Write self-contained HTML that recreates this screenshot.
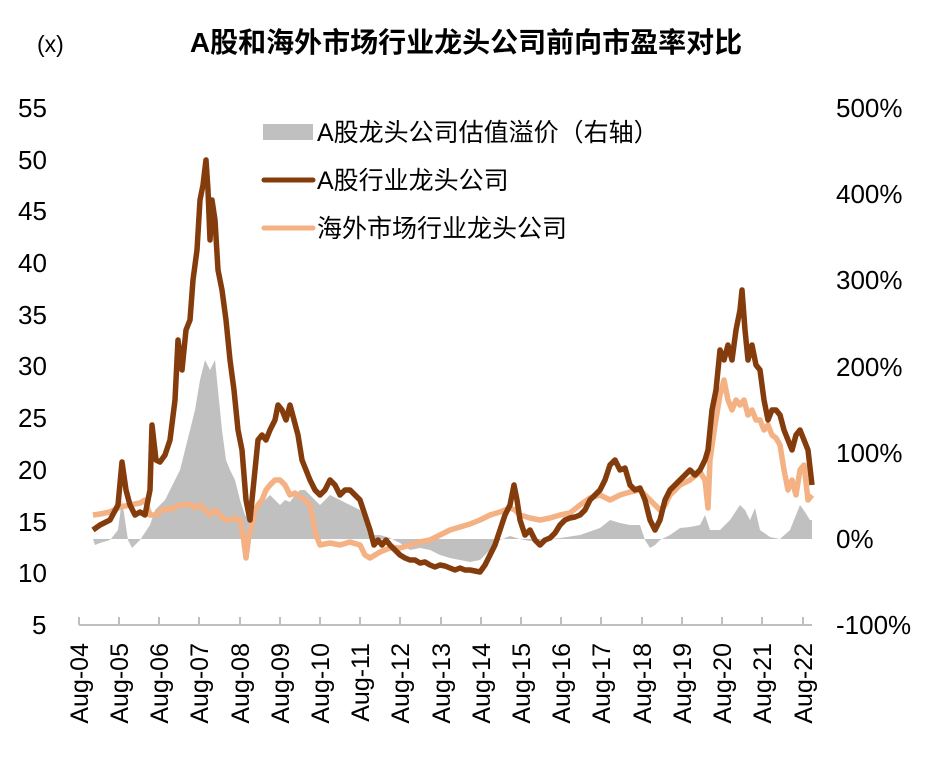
<!DOCTYPE html>
<html><head><meta charset="utf-8"><style>
body{margin:0;background:#fff}
svg text{font-family:"Liberation Sans","Noto Sans CJK SC",sans-serif;fill:#000}
</style></head><body>
<svg width="939" height="756" viewBox="0 0 939 756" xmlns="http://www.w3.org/2000/svg">
<text x="466" y="52" font-size="28" font-weight="bold" text-anchor="middle">A股和海外市场行业龙头公司前向市盈率对比</text>
<text x="37" y="52" font-size="23">(x)</text>
<g font-size="26">
<text x="18" y="117">55</text><text x="18" y="169">50</text><text x="18" y="220">45</text><text x="18" y="272">40</text><text x="18" y="324">35</text><text x="18" y="375">30</text><text x="18" y="427">25</text><text x="18" y="479">20</text><text x="18" y="531">15</text><text x="18" y="582">10</text><text x="32" y="634">5</text>
<text x="836" y="117">500%</text><text x="836" y="203">400%</text><text x="836" y="289">300%</text><text x="836" y="376">200%</text><text x="836" y="462">100%</text><text x="836" y="548">0%</text><text x="836" y="634">-100%</text>
</g>
<polygon fill="#c0c0c0" points="93,539 95,545 100,543 110,540 118,530 122,500 128,540 132,548 140,540 150,525 155,510 165,500 175,480 180,470 190,430 195,410 200,380 205,360 210,370 215,360 218,390 222,430 226,460 230,470 235,480 240,500 245,515 250,520 255,515 260,505 265,500 270,495 275,500 280,505 285,500 290,502 295,495 300,490 305,490 310,495 315,500 320,505 330,495 340,500 350,505 360,510 365,520 370,535 380,535 390,538 400,543 410,550 420,548 430,550 440,555 450,558 460,560 470,562 480,560 490,550 500,540 510,536 520,539 530,541 540,540 560,538 580,535 600,528 610,520 620,523 630,525 640,525 645,540 650,548 655,545 660,540 670,535 680,528 690,527 700,525 705,515 710,530 720,530 730,520 740,505 745,510 750,520 755,508 760,530 770,537 780,539 790,530 800,505 805,512 810,520 812,520 812,539"/>
<polyline fill="none" stroke="#f4b183" stroke-width="5.5" stroke-linejoin="round" points="93,515 100,514 110,512 120,507 130,505 140,503 145,500 150,515 155,515 160,512 165,508 170,510 175,507 180,505 185,505 190,504 195,508 200,505 205,510 210,515 215,510 220,515 225,520 230,520 235,518 240,520 243,535 246,558 249,535 252,525 255,510 258,505 262,500 266,490 270,485 275,480 280,480 285,485 290,495 295,493 300,497 305,500 310,505 313,520 316,535 320,545 330,543 340,545 350,542 360,545 365,555 370,558 375,555 380,552 390,548 400,548 410,545 420,542 430,540 440,535 450,530 460,527 470,524 480,520 490,515 500,512 510,508 515,510 520,515 530,518 540,520 550,518 560,515 570,513 580,505 590,498 600,495 610,500 620,495 630,492 640,490 650,500 655,505 660,510 665,505 670,495 680,485 690,480 700,472 705,480 708,508 710,460 715,425 720,395 724,380 728,400 732,410 736,400 740,405 744,400 748,415 752,410 756,420 760,420 764,430 768,425 772,435 776,438 780,445 784,470 788,490 792,480 796,495 800,470 804,465 808,500 812,495"/>
<polyline fill="none" stroke="#843c0c" stroke-width="5.5" stroke-linejoin="round" points="93,530 100,525 110,520 118,505 122,462 126,490 130,505 135,515 140,512 145,515 150,490 152,425 156,460 160,462 165,455 170,440 175,400 178,340 182,370 186,330 190,320 193,280 197,250 200,200 203,185 206,160 208,190 210,240 212,200 215,220 218,270 222,290 226,320 230,360 234,390 238,430 242,450 246,500 250,520 255,470 258,440 262,435 266,440 270,430 275,420 278,405 282,410 286,420 290,405 294,420 298,435 302,460 306,470 310,480 315,490 320,495 325,490 330,480 335,485 340,495 345,490 350,490 355,495 360,500 365,515 370,530 374,545 378,540 382,545 386,540 390,545 395,550 400,555 405,558 410,560 415,560 420,563 425,562 430,565 435,567 440,565 445,566 450,568 455,570 460,568 465,570 470,570 475,571 480,572 485,565 490,555 495,545 500,530 505,515 510,505 514,485 517,500 520,520 525,535 530,530 535,540 540,545 545,540 550,538 555,533 560,525 565,520 570,518 575,517 580,515 585,510 590,500 595,495 600,490 605,480 610,465 615,460 620,470 625,468 630,485 635,490 640,488 645,500 650,520 655,530 660,520 665,500 670,490 675,485 680,480 685,475 690,470 695,475 700,470 705,460 708,450 712,410 716,390 720,350 724,360 728,345 732,360 736,330 740,310 742,290 745,330 748,360 752,345 756,365 760,370 764,400 768,420 772,410 776,410 780,415 784,430 788,440 792,450 796,435 800,430 804,440 808,450 812,485"/>
<g stroke="#bfbfbf" stroke-width="2" fill="none">
<line x1="79" y1="625" x2="812" y2="625"/>
<path d="M79,617V625M119,617V625M159,617V625M199,617V625M240,617V625M280,617V625M320,617V625M360,617V625M400,617V625M441,617V625M481,617V625M521,617V625M561,617V625M601,617V625M642,617V625M682,617V625M722,617V625M762,617V625M803,617V625"/>
</g>
<g font-size="25" text-anchor="end">
<text transform="translate(88,643) rotate(-90)">Aug-04</text>
<text transform="translate(128,643) rotate(-90)">Aug-05</text>
<text transform="translate(168,643) rotate(-90)">Aug-06</text>
<text transform="translate(208,643) rotate(-90)">Aug-07</text>
<text transform="translate(249,643) rotate(-90)">Aug-08</text>
<text transform="translate(289,643) rotate(-90)">Aug-09</text>
<text transform="translate(329,643) rotate(-90)">Aug-10</text>
<text transform="translate(369,643) rotate(-90)">Aug-11</text>
<text transform="translate(409,643) rotate(-90)">Aug-12</text>
<text transform="translate(450,643) rotate(-90)">Aug-13</text>
<text transform="translate(490,643) rotate(-90)">Aug-14</text>
<text transform="translate(530,643) rotate(-90)">Aug-15</text>
<text transform="translate(570,643) rotate(-90)">Aug-16</text>
<text transform="translate(610,643) rotate(-90)">Aug-17</text>
<text transform="translate(651,643) rotate(-90)">Aug-18</text>
<text transform="translate(691,643) rotate(-90)">Aug-19</text>
<text transform="translate(731,643) rotate(-90)">Aug-20</text>
<text transform="translate(771,643) rotate(-90)">Aug-21</text>
<text transform="translate(812,643) rotate(-90)">Aug-22</text>
</g>
<rect x="263" y="124" width="50" height="16" fill="#c0c0c0"/>
<line x1="264" y1="180" x2="313" y2="180" stroke="#843c0c" stroke-width="5" stroke-linecap="round"/>
<line x1="264" y1="228" x2="313" y2="228" stroke="#f4b183" stroke-width="5" stroke-linecap="round"/>
<g font-size="25">
<text x="317" y="141">A股龙头公司估值溢价（右轴）</text>
<text x="317" y="189">A股行业龙头公司</text>
<text x="317" y="237">海外市场行业龙头公司</text>
</g>
</svg>
</body></html>
